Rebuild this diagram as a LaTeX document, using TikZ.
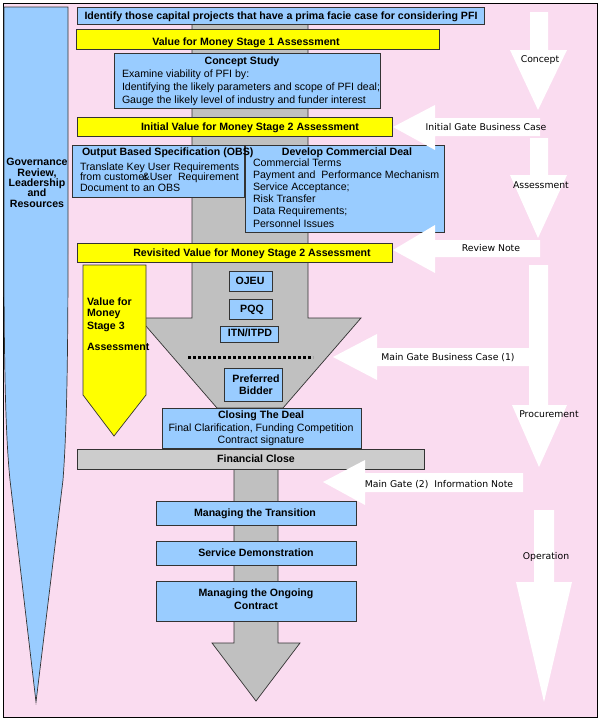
\documentclass[tikz,border=0pt]{standalone}
\usepackage{fontspec}
\setmainfont{Liberation Sans}
\newfontfamily\labelfont{DejaVu Sans}
\usetikzlibrary{shadows}
\definecolor{bgpink}{RGB}{250,220,240}
\definecolor{boxblue}{RGB}{153,204,255}
\definecolor{boxyellow}{RGB}{255,255,0}
\definecolor{funnelgrey}{RGB}{192,192,192}
\definecolor{closegrey}{RGB}{204,204,204}
\begin{document}
\begin{tikzpicture}[x=1pt,y=-1pt,
  every node/.style={inner sep=0pt, outer sep=0pt},
  panel/.style={draw=black!80, line width=0.7pt, anchor=north west},
  bluebox/.style={panel, fill=boxblue},
  yellowbox/.style={panel, fill=boxyellow, drop shadow={shadow xshift=1pt, shadow yshift=-1.2pt, fill=black, opacity=0.8}},
  greybox/.style={panel, fill=closegrey},
  shapeline/.style={draw=black!80, line width=0.7pt},
  bt/.style={font=\fontsize{10.6}{12}\selectfont\bfseries, text height=7.6pt, text depth=0pt},
  rt/.style={font=\fontsize{10.6}{12}\selectfont, text height=7.6pt, text depth=0pt},
  lt/.style={font=\labelfont\fontsize{9.3}{11}\selectfont, text height=6.8pt, text depth=0pt},
  whitearrow/.style={fill=white, draw=none},
]
\useasboundingbox (0,0) rectangle (598,720);
\fill[white] (0,0) rectangle (598,720);
% background frame
\path[fill=bgpink, draw=black, line width=0.8pt] (3,3) rectangle (597,717);

% governance tapered bar
\path[shapeline, fill=boxblue] (4,7) -- (68,7) -- (68,250) .. controls (68,380) and (66,440) .. (63,480) -- (36,702) -- (10,480) .. controls (6,440) and (4,380) .. (4,250) -- cycle;

% grey funnel
\path[shapeline, fill=funnelgrey] (192,10) -- (308,10) -- (308,318) -- (361,318) -- (283,408) -- (217,408) -- (139,318) -- (192,318) -- cycle;
% lower grey arrow
\path[shapeline, fill=funnelgrey] (234,460) -- (278,460) -- (278,643) -- (300,643) -- (256,701) -- (212,643) -- (234,643) -- cycle;

% value for money stage 3 pentagon
\path[shapeline, fill=boxyellow] (83,265) -- (146,265) -- (146,395) -- (114,436) -- (83,395) -- cycle;

% boxes
\node[bluebox, minimum width=407pt, minimum height=17pt] (identify) at (77,7) {};
\node[yellowbox, minimum width=363pt, minimum height=20pt] (vfm1) at (76,29) {};
\node[bluebox, minimum width=266pt, minimum height=55pt] (concept) at (114,53) {};
\node[yellowbox, minimum width=315pt, minimum height=19pt] (vfm2i) at (77,117) {};
\node[bluebox, minimum width=172pt, minimum height=52pt] (obs) at (72,145) {};
\node[bluebox, minimum width=199pt, minimum height=87pt] (deal) at (245,145) {};
\node[yellowbox, minimum width=315pt, minimum height=19pt] (vfm2r) at (77,243) {};
\node[bluebox, minimum width=43pt, minimum height=20pt] (ojeu) at (229,271) {};
\node[bluebox, minimum width=43pt, minimum height=20pt] (pqq) at (229,299) {};
\node[bluebox, minimum width=58pt, minimum height=16pt] (itn) at (220,326) {};
\node[bluebox, minimum width=58pt, minimum height=33pt] (pref) at (224,368) {};
\node[bluebox, minimum width=199pt, minimum height=40pt] (closing) at (162,408) {};
\node[greybox, minimum width=347pt, minimum height=20pt] (fclose) at (77,449) {};
\node[bluebox, minimum width=200pt, minimum height=24pt] (trans) at (156,501) {};
\node[bluebox, minimum width=200pt, minimum height=24pt] (servdemo) at (156,541) {};
\node[bluebox, minimum width=200pt, minimum height=40pt] (ongoing) at (156,581) {};

% dotted line
\draw[line width=3pt, dash pattern=on 3pt off 2pt] (188,357) -- (313,357);

% white left-pointing arrows
\path[whitearrow] (393,127) -- (435,105) -- (435,118) -- (540,118) -- (540,136) -- (435,136) -- (435,150) -- cycle;
\path[whitearrow] (393,250) -- (435,225) -- (435,240) -- (540,240) -- (540,257) -- (435,257) -- (435,273) -- cycle;
\path[whitearrow] (333,357) -- (377,334) -- (377,348) -- (529,348) -- (529,366) -- (377,366) -- (377,380) -- cycle;
\path[whitearrow] (323,482) -- (365,460) -- (365,473) -- (523,473) -- (523,492) -- (365,492) -- (365,505) -- cycle;
% white down arrows
\path[whitearrow] (530,12) -- (548,12) -- (548,50) -- (567,50) -- (538,110) -- (510,50) -- (530,50) -- cycle;
\path[whitearrow] (530,138) -- (548,138) -- (548,175) -- (567,175) -- (538,238) -- (510,175) -- (530,175) -- cycle;
\path[whitearrow] (529,265) -- (548,265) -- (548,405) -- (567,405) -- (539,467) -- (512,405) -- (529,405) -- cycle;
\path[whitearrow] (534,510) -- (554,510) -- (554,582) -- (572,582) -- (544,702) -- (516,582) -- (534,582) -- cycle;

% texts
\node[bt] (tgov1) at (37,162) {Governance};
\node[bt] (tgov2) at (37,173) {Review,};
\node[bt] (tgov3) at (37,183) {Leadership};
\node[bt] (tgov4) at (37,193) {and};
\node[bt] (tgov5) at (37,204) {Resources};

\node[bt] (tidentify) at (281,16) {Identify those capital projects that have a prima facie case for considering PFI};
\node[bt] (tvfm1) at (246,42) {Value for Money Stage 1 Assessment};
\node[bt] (tconcept) at (242,61) {Concept Study};
\node[rt, anchor=west] (tc1) at (122,74) {Examine viability of PFI by:};
\node[rt, anchor=west] (tc2) at (122,87) {Identifying the likely parameters and scope of PFI deal;};
\node[rt, anchor=west] (tc3) at (122,100) {Gauge the likely level of industry and funder interest};
\node[bt] (tvfm2i) at (250,127) {Initial Value for Money Stage 2 Assessment};

\node[bt, anchor=west] (tobs) at (82,152) {Output Based Specification (OBS)};
\node[rt, anchor=west] (to1) at (80,167) {Translate Key User Requirements};
\node[rt, anchor=west] (to2) at (80,177) {from customer\hspace{-5pt}\&User\ \ Requirement};
\node[rt, anchor=west] (to3) at (80,188) {Document to an OBS};

\node[bt] (tdeal) at (347,152) {Develop Commercial Deal};
\node[rt, anchor=west] (td1) at (253,163) {Commercial Terms};
\node[rt, anchor=west] (td2) at (253,175) {Payment and\ \ Performance Mechanism};
\node[rt, anchor=west] (td3) at (253,187) {Service Acceptance;};
\node[rt, anchor=west] (td4) at (253,199) {Risk Transfer};
\node[rt, anchor=west] (td5) at (253,211) {Data Requirements;};
\node[rt, anchor=west] (td6) at (253,224) {Personnel Issues};

\node[bt] (tvfm2r) at (252,253) {Revisited Value for Money Stage 2 Assessment};
\node[bt] (tojeu) at (250,281) {OJEU};
\node[bt] (tpqq) at (252,309) {PQQ};
\node[bt] (titn) at (250,333) {ITN/ITPD};
\node[bt] (tpref1) at (256,379) {Preferred};
\node[bt] (tpref2) at (256,391) {Bidder};

\node[bt, anchor=west] (tv31) at (87,302) {Value for};
\node[bt, anchor=west] (tv32) at (87,313) {Money};
\node[bt, anchor=west] (tv33) at (87,326) {Stage 3};
\node[bt, anchor=west] (tv34) at (87,347) {Assessment};

\node[bt] (tclose1) at (261,415) {Closing The Deal};
\node[rt] (tclose2) at (261,428) {Final Clarification, Funding Competition};
\node[rt] (tclose3) at (261,440) {Contract signature};
\node[bt] (tfclose) at (256,459) {Financial Close};
\node[bt] (ttrans) at (255,513) {Managing the Transition};
\node[bt] (tserv) at (256,553) {Service Demonstration};
\node[bt] (tong1) at (256,593) {Managing the Ongoing};
\node[bt] (tong2) at (256,606) {Contract};

% right labels
\node[lt] (lconcept) at (540,59) {Concept};
\node[lt] (linitial) at (486,127) {Initial Gate Business Case};
\node[lt] (lassess) at (541,185) {Assessment};
\node[lt] (lreview) at (491,248) {Review Note};
\node[lt] (lmain1) at (448,357) {Main Gate Business Case (1)};
\node[lt] (lproc) at (549,414) {Procurement};
\node[lt] (lmain2) at (439,484) {Main Gate (2)\ \ Information Note};
\node[lt] (loper) at (546,556) {Operation};
\end{tikzpicture}
\end{document}
